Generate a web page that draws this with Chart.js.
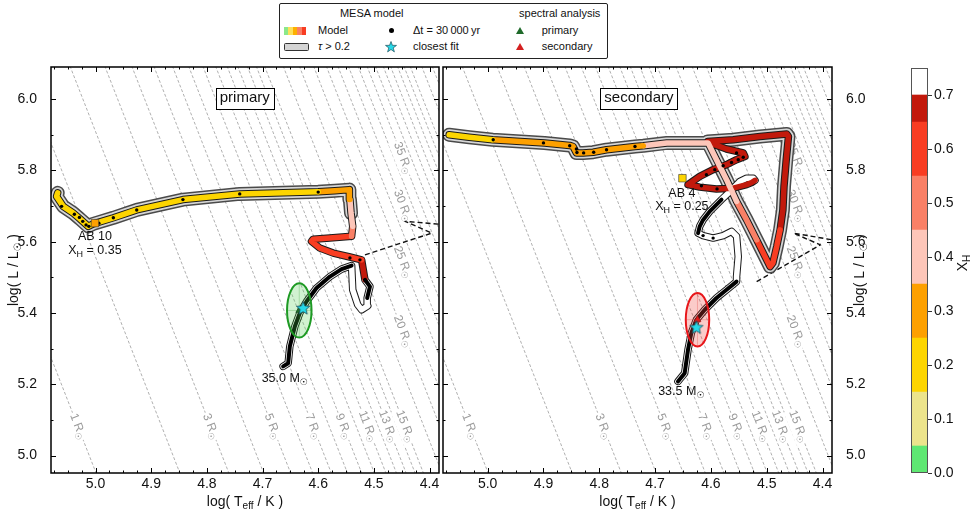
<!DOCTYPE html>
<html>
<head>
<meta charset="utf-8">
<script src="https://cdn.jsdelivr.net/npm/chart.js@4.4.1/dist/chart.umd.min.js"></script>
<style>
  html, body { margin: 0; padding: 0; background: #fff; }
  #wrap { position: relative; width: 973px; height: 517px; overflow: hidden;
          font-family: "Liberation Sans", Arial, "DejaVu Sans", sans-serif; color: #111; }
  #wrap canvas { position: absolute; left: 0; top: 0; }
  #legendBox { position: absolute; left: 279px; top: 3px; width: 327px; height: 54px;
               border: 1.3px solid #222; border-radius: 2px; background: #fff; }
  .lt { position: absolute; font-size: 11px; line-height: 13px; white-space: nowrap; }
  .sw { position: absolute; display: flex; width: 22px; height: 8px; }
  .sw i { flex: 1; }
  .mk { position: absolute; }
</style>
</head>
<body>
<div id="wrap">
  <canvas id="cPrimary" width="973" height="517"></canvas>
  <canvas id="cSecondary" width="973" height="517"></canvas>
  <canvas id="cBar" width="973" height="517"></canvas>

  <div id="legendBox"></div>
  <span class="lt" style="left:371.7px;top:6.8px;transform:translateX(-50%)">MESA model</span>
  <span class="lt" style="left:559.7px;top:6.8px;transform:translateX(-50%)">spectral analysis</span>

  <div class="sw" style="left:284px;top:27px">
    <i style="background:#8be88a"></i><i style="background:#fde05a"></i><i style="background:#fdb000"></i>
    <i style="background:#f98066"></i><i style="background:#f83d22"></i>
  </div>
  <span class="lt" style="left:318px;top:24.2px">Model</span>
  <div class="mk" style="left:388.5px;top:28.2px;width:5px;height:5px;border-radius:50%;background:#000"></div>
  <span class="lt" style="left:413px;top:24.2px">Δt = 30&#8201;000&#8201;yr</span>
  <svg class="mk" style="left:516px;top:27px" width="8" height="7"><polygon points="4,0 8,7 0,7" fill="#1f6a2a"/></svg>
  <span class="lt" style="left:541.7px;top:24.2px">primary</span>

  <div class="mk" style="left:284px;top:42.5px;width:23px;height:6px;border:1.3px solid #333;border-radius:1.5px;background:#d4d4d4"></div>
  <span class="lt" style="left:318px;top:40.2px"><i>τ</i> &gt; 0.2</span>
  <svg class="mk" style="left:385px;top:40.5px" width="12" height="12"><polygon points="6,0.5 7.4,4.3 11.5,4.4 8.2,6.9 9.4,10.9 6,8.5 2.6,10.9 3.8,6.9 0.5,4.4 4.6,4.3" fill="#27d9e8" stroke="#1d4d5a" stroke-width="0.7"/></svg>
  <span class="lt" style="left:413px;top:40.2px">closest fit</span>
  <svg class="mk" style="left:516px;top:43px" width="8" height="7"><polygon points="4,0 8,7 0,7" fill="#d42020"/></svg>
  <span class="lt" style="left:541.7px;top:40.2px">secondary</span>
</div>

<script>
const FAMILY = "'Liberation Sans', Arial, 'DejaVu Sans', sans-serif";
const LOG_TSUN = 3.7613;

// axes
const xTickValues = [5.0, 4.9, 4.8, 4.7, 4.6, 4.5, 4.4];
const yTickValues = [5.0, 5.2, 5.4, 5.6, 5.8, 6.0];
const xhTickValues = [0.0, 0.1, 0.2, 0.3, 0.4, 0.5, 0.6, 0.7];

// surface hydrogen colour bands
const xhBandEdges = [0.0, 0.05, 0.15, 0.25, 0.35, 0.45, 0.55, 0.65, 0.70, 0.75];
const xhBandColors = ['#5fe873', '#ece48c', '#fdd500', '#fda000', '#fdc6b9', '#f98066', '#f83d22', '#c2190c', '#ffffff'];

// iso-radius lines (R_sun) and which of them carry a label
const isoRadii = [1, 2, 3, 4, 5, 6, 7, 8, 9, 10, 11, 12, 13, 14, 15, 17.5, 20, 22.5, 25, 27.5, 30, 32.5, 35,
                  37.5, 40, 42.5, 45, 47.5, 50, 55, 60];
const isoLabelsLow = [1, 3, 5, 7, 9, 11, 13, 15];
const isoLabelsHigh = [20, 25, 30, 35];

// primary track (35.0 Msun)
const priTeff = [4.663, 4.654, 4.651, 4.642, 4.633, 4.621, 4.603, 4.579, 4.558, 4.540,
                 4.538, 4.529, 4.522, 4.511, 4.512, 4.507,
                 4.516, 4.519,
                 4.522, 4.543, 4.573, 4.597, 4.612, 4.609, 4.579,
                 4.540, 4.538, 4.541, 4.543, 4.544, 4.570,
                 4.600, 4.741, 4.843, 4.926, 4.968, 5.004, 5.013, 5.028, 5.040, 5.058, 5.070, 5.068];
const priLum = [5.250, 5.259, 5.306, 5.362, 5.400, 5.432, 5.470, 5.502, 5.523, 5.533,
                5.465, 5.423, 5.409, 5.420, 5.442, 5.474,
                5.493, 5.521,
                5.549, 5.557, 5.568, 5.582, 5.601, 5.607, 5.610,
                5.615, 5.643, 5.680, 5.718, 5.746, 5.743,
                5.740, 5.734, 5.718, 5.689, 5.667, 5.650, 5.643, 5.664, 5.680, 5.699, 5.727, 5.737];
const priXH = [0.72, 0.72, 0.72, 0.72, 0.72, 0.72, 0.72, 0.72, 0.72, 0.72,
               0.72, 0.72, 0.72, 0.72, 0.72, 0.72,
               0.67, 0.67,
               0.60, 0.60, 0.60, 0.60, 0.60, 0.60, 0.60,
               0.50, 0.40, 0.40, 0.30, 0.30, 0.30,
               0.20, 0.20, 0.20, 0.20, 0.20, 0.20, 0.20, 0.20, 0.20, 0.20, 0.20, 0.20];
const priDense = [[0, 9], [14, 16]];
const priTauFrom = 27;
const priDotTeff = [4.525, 4.543, 4.600, 4.741, 4.843, 4.926, 4.968, 4.994, 5.012, 5.017, 5.023, 5.029, 5.038, 5.061];
const priDotLum = [5.549, 5.554, 5.739, 5.734, 5.718, 5.689, 5.667, 5.652, 5.643, 5.647, 5.657, 5.668, 5.677, 5.699];
const priLinkTeff = [4.516, 4.396, 4.444, 4.375];
const priLinkLum = [5.563, 5.624, 5.657, 5.648];

// secondary track (33.5 Msun)
const secTeff = [4.659, 4.647, 4.641, 4.635, 4.626, 4.611, 4.590, 4.572, 4.554,
                 4.554, 4.551, 4.554, 4.563, 4.578, 4.596, 4.614,
                 4.623, 4.620, 4.614, 4.602, 4.593, 4.581,
                 4.569, 4.560, 4.548, 4.536, 4.524,
                 4.521, 4.527, 4.536, 4.560, 4.590, 4.620, 4.641,
                 4.620, 4.596, 4.572, 4.554, 4.539, 4.542, 4.572, 4.602,
                 4.606, 4.560, 4.512, 4.464, 4.461,
                 4.465, 4.469, 4.471, 4.476, 4.482, 4.489, 4.494,
                 4.503, 4.518, 4.536, 4.554, 4.572, 4.590, 4.605,
                 4.679, 4.721, 4.736, 4.787, 4.811, 4.829, 4.841, 4.844, 4.847, 4.853, 4.898,
                 4.991, 5.033, 5.069];
const secLum = [5.208, 5.231, 5.297, 5.344, 5.381, 5.409, 5.442, 5.465, 5.488,
                5.502, 5.558, 5.615, 5.629, 5.617, 5.610, 5.617,
                5.624, 5.643, 5.661, 5.685, 5.699, 5.718,
                5.736, 5.750, 5.769, 5.778, 5.778,
                5.772, 5.766, 5.760, 5.750, 5.748, 5.753, 5.760,
                5.783, 5.802, 5.816, 5.830, 5.839, 5.849, 5.860, 5.877,
                5.881, 5.886, 5.895, 5.902, 5.895,
                5.830, 5.755, 5.689, 5.633, 5.587, 5.540, 5.530,
                5.558, 5.605, 5.661, 5.713, 5.774, 5.830, 5.877,
                5.877, 5.869, 5.867, 5.858, 5.851, 5.849, 5.849, 5.858, 5.867, 5.870, 5.877,
                5.886, 5.893, 5.900];
const secXH = [0.72, 0.72, 0.72, 0.72, 0.72, 0.72, 0.72, 0.72, 0.72,
               0.72, 0.72, 0.72, 0.72, 0.72, 0.72, 0.72,
               0.72, 0.72, 0.72, 0.72, 0.72, 0.72,
               0.72, 0.72, 0.72, 0.72, 0.72,
               0.67, 0.67, 0.67, 0.67, 0.67, 0.67, 0.67,
               0.67, 0.67, 0.67, 0.67, 0.67, 0.67, 0.67, 0.67,
               0.67, 0.67, 0.67, 0.67, 0.67,
               0.67, 0.67, 0.67, 0.60, 0.60, 0.60, 0.60,
               0.60, 0.50, 0.50, 0.40, 0.40, 0.40, 0.40,
               0.40, 0.30, 0.30, 0.30, 0.30, 0.30, 0.30, 0.30, 0.30, 0.30, 0.30,
               0.20, 0.20, 0.20];
const secDense = [[0, 8], [16, 21]];
const secTauFrom = 42;
const secDotTeff = [4.990, 4.900, 4.853, 4.841, 4.840, 4.828, 4.810, 4.787, 4.736, 4.554, 4.617, 4.589,
                    4.614, 4.596, 4.608, 4.593, 4.578, 4.563, 4.551, 4.542];
const secDotLum = [5.886, 5.877, 5.869, 5.860, 5.850, 5.849, 5.851, 5.858, 5.867, 5.849, 5.757, 5.748,
                   5.617, 5.610, 5.788, 5.802, 5.813, 5.822, 5.830, 5.837];
const secLinkTeff = [4.518, 4.404, 4.452, 4.375];
const secLinkLum = [5.488, 5.591, 5.624, 5.603];

// spectroscopic results: [primary, secondary]
const obsTeff = [4.634, 4.624];
const obsLum = [5.407, 5.381];
const obsErrTeff = [0.022, 0.021];
const obsErrLum = [0.076, 0.075];
const fitTeff = [4.627, 4.626];
const fitLum = [5.414, 5.360];

// best matching model stages (AB 10, AB 4)
const stageTeff = [5.001, 4.651];
const stageLum = [5.652, 5.778];
const stageXH = [0.35, 0.25];
const initialMass = ['35.0', '33.5'];

Chart.defaults.font.family = FAMILY;
Chart.defaults.color = '#111';

function bandColor(v) {
  for (let i = 0; i < xhBandColors.length; i++) {
    if (v > xhBandEdges[i] && v <= xhBandEdges[i + 1]) return xhBandColors[i];
  }
  return v <= 0 ? xhBandColors[0] : xhBandColors[xhBandColors.length - 1];
}

function teffOnRadius(r, lum) { return LOG_TSUN + (lum - 2 * Math.log10(r)) / 4; }
function lumOnRadius(r, teff) { return 4 * (teff - LOG_TSUN) + 2 * Math.log10(r); }

function makeStar(size, fill, stroke) {
  const c = document.createElement('canvas');
  c.width = c.height = size;
  const g = c.getContext('2d');
  const R = size / 2 - 1, cx = size / 2, cy = size / 2 + 0.5;
  g.beginPath();
  for (let i = 0; i < 10; i++) {
    const rr = i % 2 ? R * 0.45 : R;
    const a = -Math.PI / 2 + i * Math.PI / 5;
    g.lineTo(cx + rr * Math.cos(a), cy + rr * Math.sin(a));
  }
  g.closePath();
  g.fillStyle = fill; g.fill();
  g.strokeStyle = stroke; g.lineWidth = 0.8; g.stroke();
  return c;
}
const starImg = makeStar(16, '#27d9e8', '#1d4d5a');

// text with subscripts: parts = [[text, 'n' | 's'], ...]
function richWidth(ctx, parts, size) {
  let w = 0;
  parts.forEach(([t, m]) => {
    ctx.font = (m === 's' ? size * 0.72 : size) + 'px ' + FAMILY;
    w += ctx.measureText(t).width;
  });
  return w;
}
function drawRich(ctx, parts, x, y, size, color, angle, bg) {
  ctx.save();
  ctx.translate(x, y);
  if (angle) ctx.rotate(angle);
  const w = richWidth(ctx, parts, size);
  if (bg) {
    ctx.fillStyle = bg;
    ctx.fillRect(-w / 2 - 1.5, -size * 0.55, w + 3, size * 1.25);
  }
  ctx.fillStyle = color;
  ctx.textBaseline = 'middle';
  ctx.textAlign = 'left';
  let cx = -w / 2;
  parts.forEach(([t, m]) => {
    const s = m === 's' ? size * 0.72 : size;
    ctx.font = s + 'px ' + FAMILY;
    ctx.fillText(t, cx, m === 's' ? size * 0.32 : 0);
    cx += ctx.measureText(t).width;
  });
  ctx.restore();
  return w;
}

const X_TITLE = [['log( T', 'n'], ['eff', 's'], [' / K )', 'n']];
const Y_TITLE = [['log( L / L', 'n'], ['☉', 's'], [' )', 'n']];

function pts(ts, ls) { return ts.map((t, i) => ({ x: t, y: ls[i] })); }

function trackDatasets(teff, lum, xh, dense, tauFrom, dotT, dotL, linkT, linkL) {
  const p = pts(teff, lum);
  const base = { type: 'line', pointRadius: 0, tension: 0, fill: false,
                 borderJoinStyle: 'round', borderCapStyle: 'round' };
  const list = [
    { ...base, data: pts(linkT, linkL), borderColor: '#111', borderWidth: 1.4, borderDash: [5, 3], borderCapStyle: 'butt', order: 90 },
    { ...base, data: p.slice(tauFrom), borderColor: '#4a4a4a', borderWidth: 14, order: 80 },
    { ...base, data: p.slice(tauFrom), borderColor: '#d6d6d6', borderWidth: 11, order: 79 },
    { ...base, data: p, borderColor: '#1a1a1a', borderWidth: 7.5, order: 70 },
    { ...base, data: p, borderColor: '#fff', borderWidth: 5.5, order: 69,
      segment: { borderColor: c => bandColor(xh[c.p0DataIndex]) } }
  ];
  dense.forEach(([a, b]) => {
    list.push({ ...base, data: p.slice(a, b + 1), borderColor: '#000', borderWidth: 4, order: 68 });
  });
  list.push({ type: 'line', showLine: false, data: pts(dotT, dotL), pointRadius: 1.7,
              pointBackgroundColor: '#000', pointBorderWidth: 0, order: 60 });
  return list;
}

function isoDatasets() {
  const list = isoRadii.map(r => ({
    type: 'line', pointRadius: 0, borderColor: '#7a7a7a', borderWidth: 0.6, borderDash: [3, 2],
    data: [{ x: teffOnRadius(r, 4.7), y: 4.7 }, { x: teffOnRadius(r, 6.4), y: 6.4 }], order: 100
  }));
  list.push({ type: 'line', data: [], role: 'isoLabels', order: 95 });
  return list;
}

function markerDatasets(k) {
  return [
    { type: 'line', showLine: false, role: 'obs', data: [{ x: obsTeff[k], y: obsLum[k] }],
      pointStyle: 'triangle', pointRadius: 4,
      pointBackgroundColor: k === 0 ? '#1d6b2b' : '#e01818', pointBorderColor: k === 0 ? '#174f20' : '#a01010',
      pointBorderWidth: 0.6, order: 12 },
    { type: 'line', showLine: false, data: [{ x: fitTeff[k], y: fitLum[k] }],
      pointStyle: starImg, order: 11 },
    { type: 'line', showLine: false, data: [{ x: stageTeff[k], y: stageLum[k] }],
      pointStyle: 'rect', pointRadius: 5.3, pointBackgroundColor: bandColor(stageXH[k]),
      pointBorderColor: '#333', pointBorderWidth: 0.6, order: 10 }
  ];
}

function panelPlugin(k, side, notes) {
  return {
    id: 'panel' + k,
    beforeDatasetDraw(chart, args) {
      const ds = chart.data.datasets[args.index];
      if (ds.role !== 'obs') return;
      const { ctx, scales: { x, y } } = chart;
      const cx = x.getPixelForValue(obsTeff[k]), cy = y.getPixelForValue(obsLum[k]);
      const rx = Math.abs(x.getPixelForValue(obsTeff[k] + obsErrTeff[k]) - cx);
      const ry = Math.abs(y.getPixelForValue(obsLum[k] + obsErrLum[k]) - cy);
      ctx.save();
      ctx.beginPath();
      ctx.ellipse(cx, cy, rx, ry, 0, 0, Math.PI * 2);
      ctx.fillStyle = k === 0 ? 'rgba(70,205,70,0.25)' : 'rgba(240,70,60,0.28)';
      ctx.fill();
      ctx.beginPath();
      ctx.moveTo(cx - rx, cy); ctx.lineTo(cx + rx, cy);
      ctx.moveTo(cx, cy - ry); ctx.lineTo(cx, cy + ry);
      ctx.strokeStyle = k === 0 ? 'rgba(40,150,40,0.25)' : 'rgba(220,40,40,0.25)';
      ctx.lineWidth = 1;
      ctx.stroke();
      ctx.beginPath();
      ctx.ellipse(cx, cy, rx, ry, 0, 0, Math.PI * 2);
      ctx.strokeStyle = k === 0 ? '#1e9a24' : '#e8161a';
      ctx.lineWidth = 2;
      ctx.stroke();
      ctx.restore();
    },
    afterDatasetDraw(chart, args) {
      const ds = chart.data.datasets[args.index];
      if (ds.role !== 'isoLabels') return;
      const { ctx, scales: { x, y }, chartArea: a } = chart;
      ctx.save();
      ctx.beginPath(); ctx.rect(a.left, a.top, a.width, a.height); ctx.clip();
      const items = isoLabelsLow.map(r => [r, teffOnRadius(r, 5.082), 5.082])
        .concat(isoLabelsHigh.map(r => [r, 4.448, lumOnRadius(r, 4.448)]));
      items.forEach(([r, t, l]) => {
        const px = x.getPixelForValue(t), py = y.getPixelForValue(l);
        const qx = x.getPixelForValue(teffOnRadius(r, l - 0.1)), qy = y.getPixelForValue(l - 0.1);
        const ang = Math.atan2(qy - py, qx - px);
        drawRich(ctx, [[r + ' R', 'n'], ['☉', 's']], px, py, 12, '#9a9a9a', ang, '#fff');
      });
      ctx.restore();
    },
    afterDatasetsDraw(chart) {
      const { ctx, scales: { x, y }, chartArea: a } = chart;
      ctx.save();
      ctx.strokeStyle = '#000';
      ctx.lineWidth = 1;
      ctx.beginPath();
      const k0 = Math.ceil(x.min / 0.025 - 1e-6), k1 = Math.floor(x.max / 0.025 + 1e-6);
      for (let i = k0; i <= k1; i++) {
        const px = Math.round(x.getPixelForValue(i * 0.025)) + 0.5;
        const len = i % 4 === 0 ? 5 : 2.5;
        ctx.moveTo(px, a.bottom); ctx.lineTo(px, a.bottom - len);
        ctx.moveTo(px, a.top); ctx.lineTo(px, a.top + len);
      }
      const j0 = Math.ceil(y.min / 0.1 - 1e-6), j1 = Math.floor(y.max / 0.1 + 1e-6);
      for (let j = j0; j <= j1; j++) {
        const py = Math.round(y.getPixelForValue(j * 0.1)) + 0.5;
        const len = j % 2 === 0 ? 5 : 2.5;
        ctx.moveTo(a.left, py); ctx.lineTo(a.left + len, py);
        ctx.moveTo(a.right, py); ctx.lineTo(a.right - len, py);
      }
      ctx.stroke();
      ctx.lineWidth = 1.5;
      ctx.strokeRect(a.left, a.top, a.width, a.height);
      ctx.restore();
    },
    afterDraw(chart) {
      const { ctx, scales: { x, y }, chartArea: a } = chart;
      notes.forEach(n => {
        const px = x.getPixelForValue(n.t), py = y.getPixelForValue(n.l);
        if (n.box) {
          const w = richWidth(ctx, n.parts, n.size);
          ctx.save();
          ctx.fillStyle = '#fff';
          ctx.strokeStyle = '#000';
          ctx.lineWidth = 1;
          ctx.fillRect(Math.round(px - w / 2 - 4) + 0.5, Math.round(py - 10) + 0.5, Math.round(w + 8), 21);
          ctx.strokeRect(Math.round(px - w / 2 - 4) + 0.5, Math.round(py - 10) + 0.5, Math.round(w + 8), 21);
          ctx.restore();
        }
        drawRich(ctx, n.parts, px, py, n.size, '#111', 0, null);
      });
      drawRich(ctx, X_TITLE, (a.left + a.right) / 2, 502, 14, '#111', 0, null);
      const yx = side === 'left' ? 14 : 860;
      drawRich(ctx, Y_TITLE, yx, (a.top + a.bottom) / 2, 14, '#111', -Math.PI / 2, null);
    }
  };
}

function makePanel(canvasId, k, side, tracks, notes) {
  const padding = side === 'left' ? { left: 0, top: 67, right: 534, bottom: 0 }
                                   : { left: 443, top: 67, right: 0, bottom: 0 };
  return new Chart(document.getElementById(canvasId), {
    type: 'line',
    data: { datasets: isoDatasets().concat(tracks, markerDatasets(k)) },
    options: {
      responsive: false,
      animation: false,
      layout: { padding },
      plugins: { legend: { display: false }, tooltip: { enabled: false } },
      scales: {
        x: {
          type: 'linear', min: 4.383, max: 5.08, reverse: true,
          afterFit: s => { s.height = 44; },
          afterBuildTicks: s => { s.ticks = xTickValues.map(v => ({ value: v })); },
          ticks: { callback: v => Number(v).toFixed(1), font: { size: 14 }, color: '#111',
                   padding: -5, maxRotation: 0, autoSkip: false },
          grid: { display: false }, border: { display: false }
        },
        y: {
          type: 'linear', min: 4.951, max: 6.09, position: side,
          afterFit: s => { s.width = side === 'left' ? 51 : 141; },
          afterBuildTicks: s => { s.ticks = yTickValues.map(v => ({ value: v })); },
          ticks: { callback: v => Number(v).toFixed(1), font: { size: 14 }, color: '#111', padding: 6 },
          grid: { display: false }, border: { display: false }
        }
      }
    },
    plugins: [panelPlugin(k, side, notes)]
  });
}

makePanel('cPrimary', 0, 'left',
  trackDatasets(priTeff, priLum, priXH, priDense, priTauFrom, priDotTeff, priDotLum, priLinkTeff, priLinkLum),
  [
    { t: 4.732, l: 6.004, parts: [['primary', 'n']], size: 15, box: true },
    { t: 4.660, l: 5.215, parts: [[initialMass[0] + ' M', 'n'], ['☉', 's']], size: 12.5 },
    { t: 5.001, l: 5.615, parts: [['AB 10', 'n']], size: 12.5 },
    { t: 5.001, l: 5.574, parts: [['X', 'n'], ['H', 's'], [' = ' + stageXH[0].toFixed(2), 'n']], size: 12.5 }
  ]);

makePanel('cSecondary', 1, 'right',
  trackDatasets(secTeff, secLum, secXH, secDense, secTauFrom, secDotTeff, secDotLum, secLinkTeff, secLinkLum),
  [
    { t: 4.729, l: 6.004, parts: [['secondary', 'n']], size: 15, box: true },
    { t: 4.653, l: 5.180, parts: [[initialMass[1] + ' M', 'n'], ['☉', 's']], size: 12.5 },
    { t: 4.652, l: 5.736, parts: [['AB 4', 'n']], size: 12.5 },
    { t: 4.652, l: 5.699, parts: [['X', 'n'], ['H', 's'], [' = ' + stageXH[1].toFixed(2), 'n']], size: 12.5 }
  ]);

// colour bar
new Chart(document.getElementById('cBar'), {
  type: 'bar',
  data: {
    labels: [''],
    datasets: xhBandColors.map((c, i) => ({
      data: [[xhBandEdges[i], xhBandEdges[i + 1]]], backgroundColor: c, borderWidth: 0,
      grouped: false, barPercentage: 1, categoryPercentage: 1
    }))
  },
  options: {
    responsive: false,
    animation: false,
    layout: { padding: { left: 911, top: 68, right: 0, bottom: 44 } },
    plugins: { legend: { display: false }, tooltip: { enabled: false } },
    scales: {
      x: { display: false },
      y: {
        position: 'right', min: 0, max: 0.75,
        afterFit: s => { s.width = 45; },
        afterBuildTicks: s => { s.ticks = xhTickValues.map(v => ({ value: v })); },
        ticks: { callback: v => Number(v).toFixed(1), font: { size: 14 }, color: '#111', padding: 2 },
        grid: { drawOnChartArea: false, drawTicks: true, tickLength: 4, color: '#333' },
        border: { display: false }
      }
    }
  },
  plugins: [{
    id: 'cbar',
    afterDraw(chart) {
      const { ctx, chartArea: a } = chart;
      ctx.save();
      ctx.strokeStyle = '#555';
      ctx.lineWidth = 1;
      ctx.strokeRect(a.left + 0.5, a.top + 0.5, a.width - 1, a.height - 1);
      ctx.restore();
      drawRich(ctx, [['X', 'n'], ['H', 's']], 963, 263, 14, '#111', -Math.PI / 2, null);
    }
  }]
});
</script>
</body>
</html>
